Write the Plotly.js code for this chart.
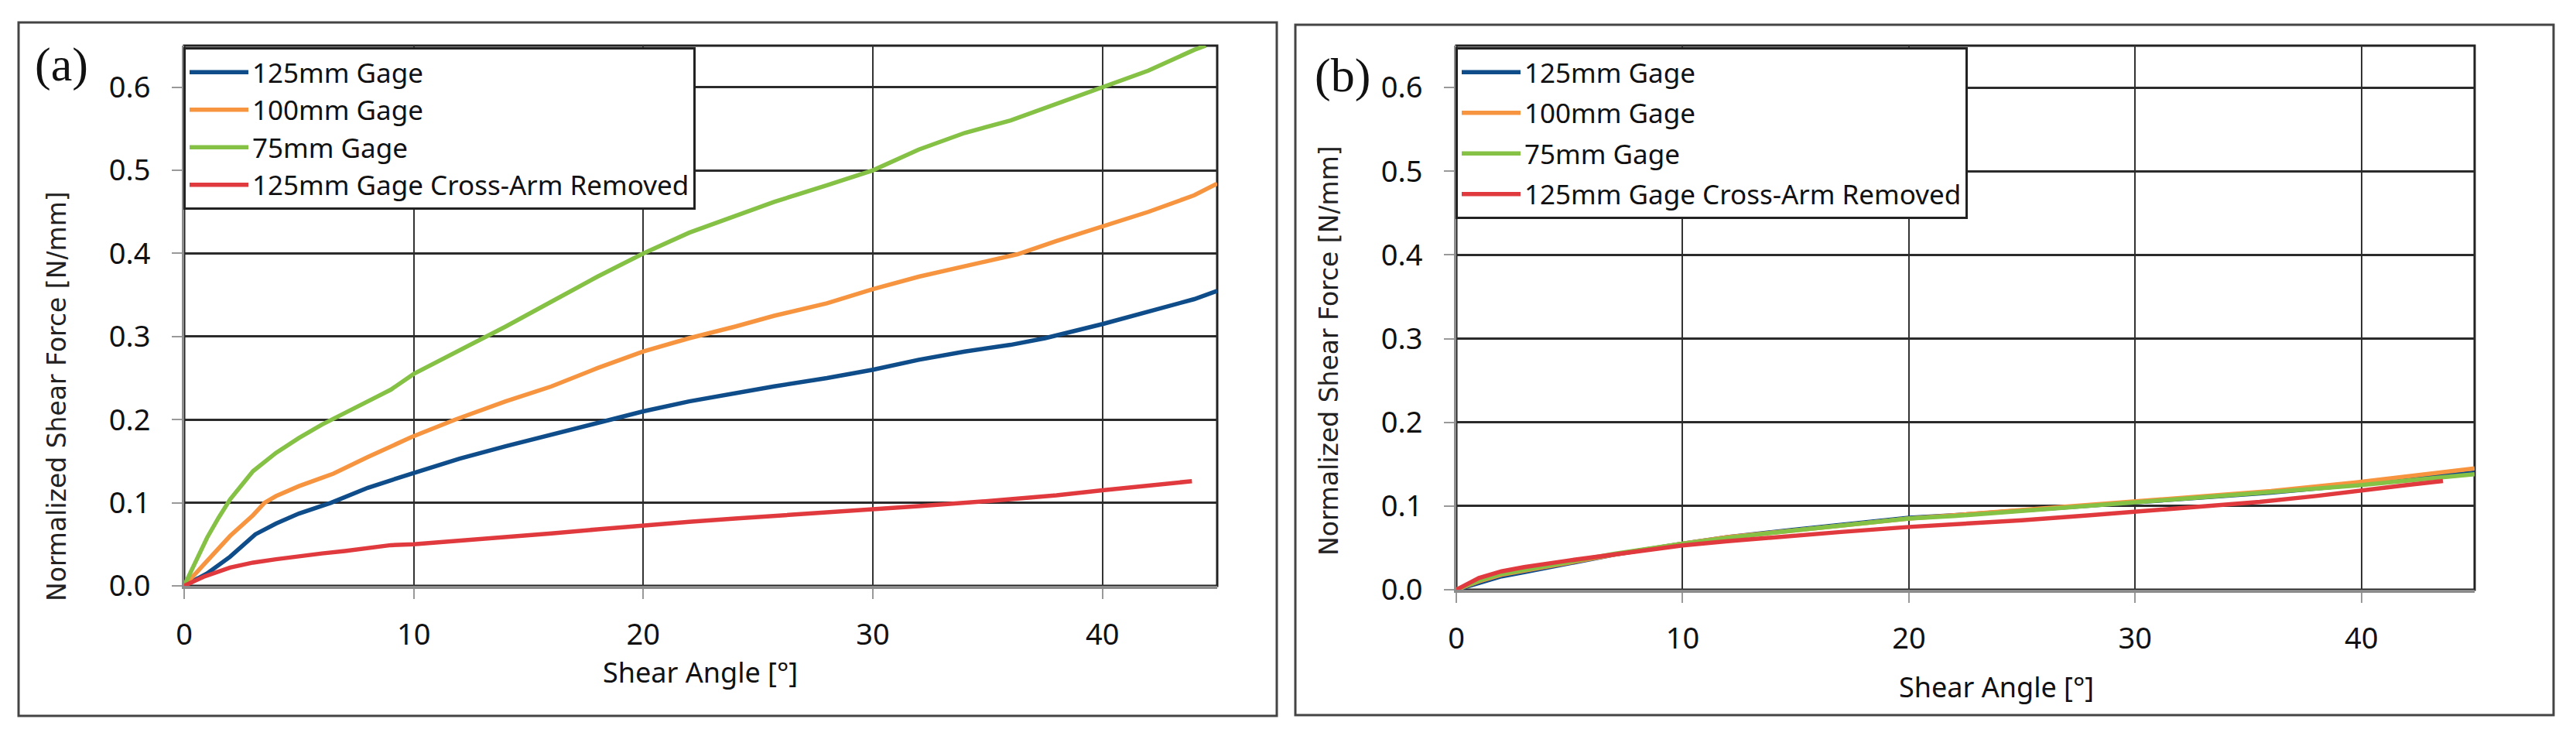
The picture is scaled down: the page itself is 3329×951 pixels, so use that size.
<!DOCTYPE html>
<html>
<head>
<meta charset="utf-8">
<script src="https://cdn.plot.ly/plotly-3.0.1.min.js"></script>
<style>
  html, body { margin: 0; padding: 0; background: #fff; }
  #chart { width: 3329px; height: 951px; }
</style>
</head>
<body>
<div id="chart"></div>
<script>
// Panel (a): shear angle [deg] and normalized force [N/mm]
const aBlueX   = [0, 1, 2, 3.1, 4, 5, 6.4, 8, 9.9, 12, 14, 16, 18.5, 20, 22, 24, 25.7, 28, 30, 32, 34, 36, 37.5, 40, 42, 44, 45];
const aBlueY   = [0, 0.015, 0.035, 0.062, 0.075, 0.087, 0.1, 0.118, 0.135, 0.153, 0.168, 0.182, 0.2, 0.21, 0.222, 0.232, 0.24, 0.25, 0.26, 0.272, 0.282, 0.29, 0.298, 0.315, 0.33, 0.345, 0.355];
const aOrangeX = [0, 1, 2, 3, 3.5, 4, 5, 6, 6.5, 8, 9.9, 11.8, 14, 16, 18, 20, 22, 24, 25.7, 28, 30, 32, 34, 36.3, 38, 40, 42, 44, 45];
const aOrangeY = [0, 0.03, 0.06, 0.085, 0.1, 0.108, 0.12, 0.13, 0.135, 0.155, 0.179, 0.2, 0.222, 0.24, 0.262, 0.282, 0.298, 0.312, 0.325, 0.34, 0.357, 0.372, 0.385, 0.399, 0.415, 0.432, 0.45, 0.47, 0.484];
const aGreenX  = [0, 0.5, 1, 1.5, 2, 3, 4, 5, 6, 7, 8, 9, 10, 12, 14, 16, 18, 20, 22, 24, 25.7, 28, 30, 32, 34, 36, 38, 40, 42, 44, 44.5];
const aGreenY  = [0, 0.03, 0.058, 0.082, 0.104, 0.138, 0.16, 0.178, 0.194, 0.208, 0.222, 0.236, 0.255, 0.283, 0.312, 0.342, 0.372, 0.4, 0.425, 0.445, 0.462, 0.482, 0.5, 0.525, 0.545, 0.56, 0.58, 0.6, 0.62, 0.645, 0.65];
const aRedX    = [0, 0.85, 2, 3, 4, 5, 6, 7, 8, 9, 10, 12, 14, 16, 18, 20, 22, 24, 25.7, 28, 30, 32, 35, 38, 40, 42, 43.9];
const aRedY    = [0, 0.011, 0.022, 0.028, 0.032, 0.036, 0.039, 0.042, 0.045, 0.049, 0.05, 0.054, 0.058, 0.063, 0.068, 0.073, 0.077, 0.081, 0.084, 0.088, 0.092, 0.096, 0.102, 0.109, 0.115, 0.12, 0.126];

// Panel (b)
const bGageX   = [0, 1, 2, 3, 5, 7, 10, 12, 15, 17, 20, 22, 25, 28, 30, 33, 36, 40, 43, 45];
const bBlueY   = [0, 0.008, 0.016, 0.021, 0.032, 0.042, 0.055, 0.063, 0.072, 0.078, 0.086, 0.089, 0.095, 0.101, 0.105, 0.11, 0.116, 0.126, 0.134, 0.14];
const bOrangeY = [0, 0.01, 0.018, 0.023, 0.033, 0.042, 0.055, 0.063, 0.071, 0.077, 0.085, 0.089, 0.095, 0.102, 0.106, 0.112, 0.118, 0.129, 0.138, 0.145];
const bGreenY  = [0, 0.011, 0.019, 0.024, 0.034, 0.043, 0.055, 0.062, 0.071, 0.077, 0.085, 0.088, 0.094, 0.1, 0.105, 0.11, 0.116, 0.125, 0.133, 0.138];
const bRedX    = [0, 1, 2, 3, 5, 7, 10, 12, 15, 17, 20, 22, 25, 28, 30, 33, 35.5, 38, 40, 42, 43.6];
const bRedY    = [0, 0.014, 0.022, 0.027, 0.035, 0.042, 0.053, 0.058, 0.065, 0.069, 0.075, 0.078, 0.083, 0.089, 0.093, 0.099, 0.105, 0.112, 0.119, 0.125, 0.13];

const names  = ["125mm Gage", "100mm Gage", "75mm Gage", "125mm Gage Cross-Arm Removed"];
const colors = ["#0f4c8a", "#f7943f", "#84c144", "#e03a3e"];
const xTicks = [0, 10, 20, 30, 40];

const W = 3329, H = 951;
const px = v => v / W;
const py = v => 1 - v / H;

function line(x, y, i, xa, ya, leg) {
    return {
        x: x, y: y, mode: "lines", type: "scatter",
        name: names[i], xaxis: xa, yaxis: ya, legend: leg,
        legendgroup: leg + i,
        line: { color: colors[i], width: 5.5 },
        hoverinfo: "skip"
    };
}

const traces = [
    line(aBlueX, aBlueY, 0, "x", "y", "legend"),
    line(aOrangeX, aOrangeY, 1, "x", "y", "legend"),
    line(aGreenX, aGreenY, 2, "x", "y", "legend"),
    line(aRedX, aRedY, 3, "x", "y", "legend"),
    line(bGageX, bBlueY, 0, "x2", "y2", "legend2"),
    line(bGageX, bOrangeY, 1, "x2", "y2", "legend2"),
    line(bGageX, bGreenY, 2, "x2", "y2", "legend2"),
    line(bRedX, bRedY, 3, "x2", "y2", "legend2")
];

const sans = "Noto Sans, Liberation Sans, Arial, sans-serif";
const tickFont = { family: sans, size: 38, color: "#111" };

function xAxis(domain, anchor) {
    return {
        domain: domain, anchor: anchor, range: [0, 45],
        tickvals: xTicks, ticks: "outside", ticklen: 13, tickwidth: 2, tickcolor: "#999",
        ticklabelstandoff: 13, tickfont: tickFont,
        showgrid: true, gridcolor: "#333", gridwidth: 2,
        showline: true, linecolor: "#8c8c8c", linewidth: 4,
        zeroline: false, fixedrange: true
    };
}
function yAxis(domain, anchor) {
    return {
        domain: domain, anchor: anchor, range: [0, 0.65],
        dtick: 0.1, tick0: 0, tickformat: ".1f",
        ticks: "outside", ticklen: 13, tickwidth: 2, tickcolor: "#999",
        ticklabelstandoff: 20, tickfont: tickFont,
        showgrid: true, gridcolor: "#2b2b2b", gridwidth: 3,
        showline: true, linecolor: "#8c8c8c", linewidth: 3,
        zeroline: false, fixedrange: true
    };
}

function legendBox(x, order, gap) {
    return {
        x: x, y: py(61), xanchor: "left", yanchor: "top",
        bgcolor: "#fff", bordercolor: "#222", borderwidth: 3,
        font: { family: sans, size: 35, color: "#111" },
        itemwidth: 76, traceorder: order, tracegroupgap: gap
    };
}

function frame(x0, y0, x1, y1) {
    return { type: "rect", xref: "paper", yref: "paper",
        x0: px(x0), x1: px(x1), y0: py(y1), y1: py(y0),
        line: { color: "#444", width: 3 }, fillcolor: "rgba(0,0,0,0)", layer: "below" };
}
function plotBorder(xa, ya) {
    return { type: "rect", xref: xa + " domain", yref: ya + " domain",
        x0: 0, x1: 1, y0: 0, y1: 1,
        line: { color: "#222", width: 3 }, fillcolor: "rgba(0,0,0,0)", layer: "below" };
}

const titleFont = { family: sans, size: 36, color: "#111" };
const yTitleFont = { family: "DejaVu Sans, Verdana, sans-serif", size: 33, color: "#222" };
const tagFont = { family: "Liberation Serif, Times New Roman, serif", size: 62, color: "#111" };

function note(text, x, y, font, angle) {
    return { text: text, x: px(x), y: py(y), xref: "paper", yref: "paper",
        xanchor: "center", yanchor: "middle", textangle: angle || 0,
        showarrow: false, font: font };
}

const layout = {
    width: W, height: H,
    margin: { l: 0, r: 0, t: 0, b: 0 },
    paper_bgcolor: "#fff", plot_bgcolor: "#fff",
    showlegend: true,
    xaxis: xAxis([px(238), px(1573)], "y"),
    yaxis: yAxis([py(757), py(59)], "x"),
    xaxis2: xAxis([px(1882), px(3198)], "y2"),
    yaxis2: yAxis([py(762), py(59)], "x2"),
    legend: legendBox(px(237), "normal", 0),
    legend2: legendBox(px(1881), "grouped", 4),
    shapes: [
        frame(24, 29, 1650, 925),
        frame(1674, 32, 3300, 924),
        plotBorder("x", "y"),
        plotBorder("x2", "y2")
    ],
    annotations: [
        note("(a)", 79, 83, tagFont),
        note("(b)", 1735, 97, tagFont),
        note("Shear Angle [°]", 905, 868, titleFont),
        note("Shear Angle [°]", 2580, 887, titleFont),
        note("Normalized Shear Force [N/mm]", 73, 512, yTitleFont, -90),
        note("Normalized Shear Force [N/mm]", 1718, 453, yTitleFont, -90)
    ]
};

Plotly.newPlot("chart", traces, layout, { staticPlot: true, displayModeBar: false });
</script>
</body>
</html>
